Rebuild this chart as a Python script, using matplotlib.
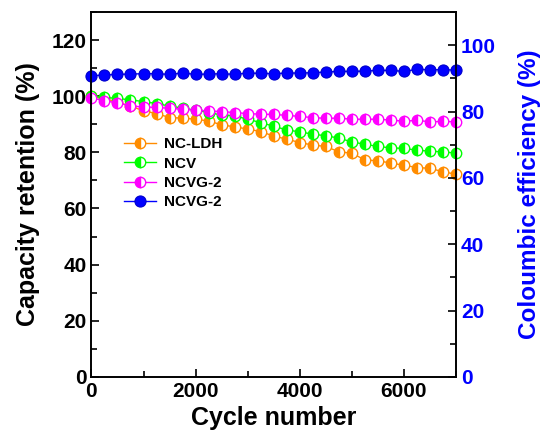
import matplotlib
matplotlib.use("Agg")
import matplotlib.pyplot as plt
from matplotlib.ticker import MultipleLocator

plt.rcParams["font.family"] = ["Liberation Sans", "DejaVu Sans"]
plt.rcParams["font.weight"] = "bold"

# Data
cycles = [0, 250, 500, 750, 1000, 1250, 1500, 1750, 2000, 2250, 2500, 2750, 3000,
          3250, 3500, 3750, 4000, 4250, 4500, 4750, 5000, 5250, 5500, 5750, 6000,
          6250, 6500, 6750, 7000]
nc_ldh = [100.0, 99.2, 97.8, 96.5, 94.8, 93.8, 92.4, 92.2, 91.8, 91.2, 89.8, 89.1, 88.3,
          87.4, 85.8, 84.7, 83.5, 82.6, 82.1, 80.2, 79.7, 77.3, 77.0, 76.2, 75.4,
          74.6, 74.3, 73.1, 72.2]
ncv = [100.0, 99.6, 99.2, 98.7, 98.1, 97.4, 96.5, 95.8, 95.0, 94.2, 93.3, 93.0, 91.8,
       90.6, 89.3, 88.0, 87.3, 86.5, 85.9, 85.1, 83.7, 82.9, 82.1, 81.6, 81.4,
       80.8, 80.4, 80.2, 79.7]
ncvg2 = [99.5, 98.3, 97.7, 96.5, 96.2, 96.0, 95.7, 95.4, 95.0, 94.8, 94.5, 94.2, 93.8,
         93.6, 93.5, 93.2, 92.8, 92.4, 92.1, 92.2, 91.8, 91.8, 91.8, 91.5, 91.1,
         91.4, 90.9, 91.0, 90.9]
ce_ncvg2 = [90.8, 91.0, 91.2, 91.3, 91.4, 91.4, 91.2, 91.6, 91.2, 91.3, 91.4, 91.2, 91.6,
            91.5, 91.4, 91.6, 91.6, 91.7, 91.9, 92.1, 92.1, 92.2, 92.4, 92.4, 92.1,
            92.7, 92.6, 92.6, 92.5]
labels = ["NC-LDH", "NCV", "NCVG-2", "NCVG-2"]

fig = plt.figure(figsize=(5.41, 4.45), dpi=100)
ax = fig.add_axes([0.169, 0.153, 0.674, 0.820])
ax2 = ax.twinx()

handles = []
for y, c, lab in zip([nc_ldh, ncv, ncvg2], ["#ff8c00", "#00ff00", "#ff00ff"], labels[:3]):
    (h,) = ax.plot(cycles, y, "-", color=c, lw=1.0, marker="o", ms=7.5,
                   fillstyle="left", markerfacecolor=c, markerfacecoloralt="white",
                   markeredgecolor=c, markeredgewidth=1.0, label=lab, clip_on=False)
    handles.append(h)

(h,) = ax2.plot(cycles, ce_ncvg2, "-", color="#0000ff", lw=1.0, marker="o", ms=8,
                markerfacecolor="#0000ff", markeredgecolor="#0000cc",
                markeredgewidth=0.8, label=labels[3], clip_on=False)
handles.append(h)

ax.set_xlim(0, 7000)
ax.set_ylim(0, 130)
ax2.set_ylim(0, 110)

ax.xaxis.set_major_locator(MultipleLocator(2000))
ax.xaxis.set_minor_locator(MultipleLocator(1000))
ax.yaxis.set_major_locator(MultipleLocator(20))
ax.yaxis.set_minor_locator(MultipleLocator(10))
ax2.yaxis.set_major_locator(MultipleLocator(20))
ax2.yaxis.set_minor_locator(MultipleLocator(10))

ax.tick_params(axis="both", which="both", direction="in", top=False, right=False,
               labelsize=15, width=1.2)
ax.tick_params(which="major", length=6)
ax.tick_params(which="minor", length=4)
ax2.tick_params(axis="y", which="both", direction="in", labelsize=15,
                labelcolor="#0000ff", width=1.2)
ax2.tick_params(which="major", length=6)
ax2.tick_params(which="minor", length=4)

for lbl in ax.get_xticklabels() + ax.get_yticklabels() + ax2.get_yticklabels():
    lbl.set_fontweight("bold")

ax.set_xlabel("Cycle number", fontsize=18, fontweight="bold", labelpad=4)
ax.set_ylabel("Capacity retention (%)", fontsize=18, fontweight="bold", labelpad=8)
ax2.set_ylabel("Coloumbic efficiency (%)", fontsize=17.5, fontweight="bold",
               color="#0000ff", labelpad=16)

for a in (ax, ax2):
    for s in a.spines.values():
        s.set_linewidth(1.2)

leg = ax.legend(handles=handles, loc="upper left", bbox_to_anchor=(0.09, 0.657),
                frameon=False, fontsize=11, handlelength=2.1, handletextpad=0.5,
                borderpad=0, borderaxespad=0, labelspacing=0.35)
for t in leg.get_texts():
    t.set_fontweight("bold")

fig.savefig("out.png", dpi=100)
